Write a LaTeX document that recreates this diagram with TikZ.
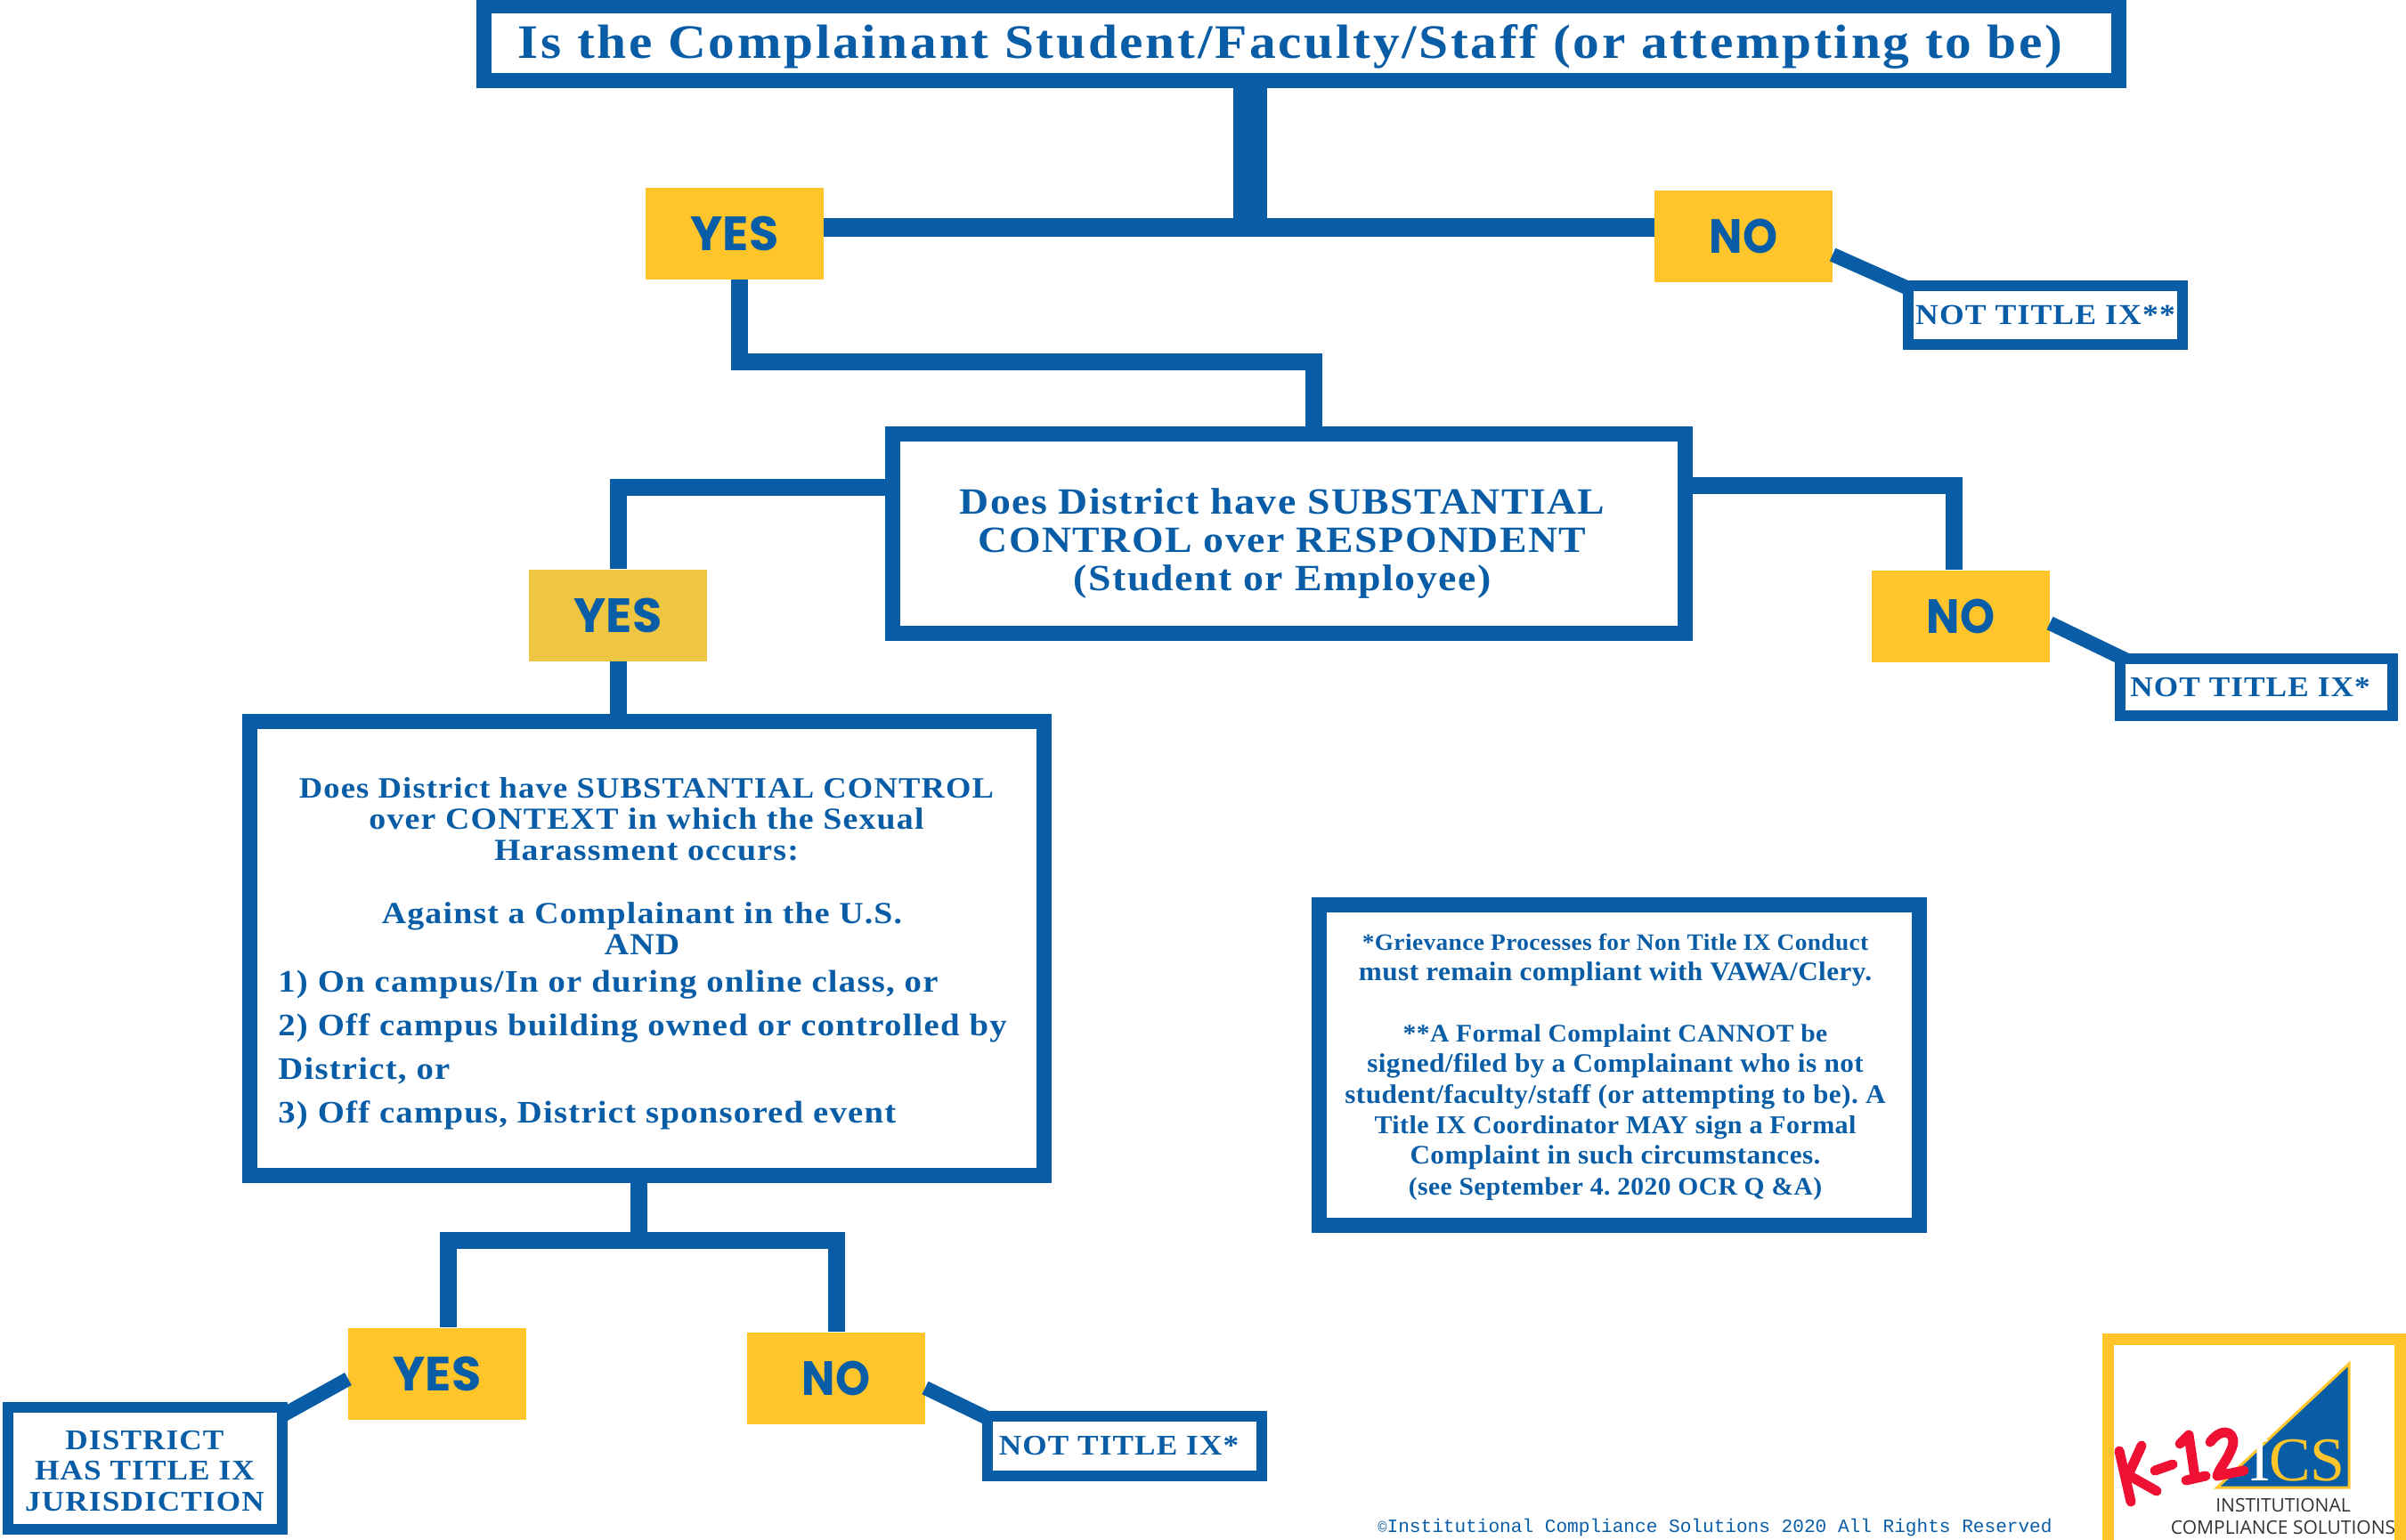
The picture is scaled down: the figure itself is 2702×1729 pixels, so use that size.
\documentclass[tikz,border=0pt]{standalone}
\usepackage{fontspec}
\setmainfont{Liberation Serif}
\newfontfamily\bodyf[LetterSpace=3.5,FakeStretch=1.1]{Liberation Serif Bold}
\newfontfamily\titlef[LetterSpace=5,FakeStretch=1.1]{Liberation Serif Bold}
\newfontfamily\notef[LetterSpace=1.5,FakeStretch=1.04]{Liberation Serif Bold}
\newfontfamily\capf{Poppins Bold}
\newfontfamily\capnf[FakeStretch=0.92]{Poppins Bold}
\newfontfamily\monof{Liberation Mono}
\newfontfamily\logof{Open Sans}
\newfontfamily\icsf{Liberation Serif}
\definecolor{ublue}{HTML}{085DA6}
\definecolor{uyellow}{HTML}{FFC52B}
\definecolor{uyellowb}{HTML}{EFC641}
\definecolor{ured}{HTML}{EE1133}
\newcommand{\szn}[1]{\fontsize{#1}{17.2}\selectfont}
\tikzset{
  qbox/.style={draw=ublue,fill=white,line width=8.5pt,inner sep=0pt,text=ublue,align=center},
  smallbox/.style={qbox,line width=6pt},
  answer/.style={fill=uyellow,text=ublue,inner sep=0pt,minimum width=100pt,minimum height=51.5pt,font=\capf\fontsize{27}{27}\selectfont},
  answerno/.style={answer,font=\capnf\fontsize{27}{27}\selectfont},
  conn/.style={draw=ublue,line width=9.5pt,line join=miter},
  diag/.style={draw=ublue,line width=8pt},
  bodytext/.style={text=ublue,inner sep=0pt,font=\bodyf\fontsize{17.2}{17.6}\selectfont},
  stroke12/.style={draw=ured,line width=5.5pt,line cap=round,line join=round}
}
\begin{document}
\frenchspacing
\begin{tikzpicture}[x=0.5pt,y=-0.5pt]
\clip (0,0) rectangle (2702,1729);
% junction coordinates
\coordinate (j1) at (1404,255);
\coordinate (e1) at (830,406);
\coordinate (e2) at (1475,406);
\coordinate (e3) at (694.5,547.5);
\coordinate (e4) at (2194,545);
\coordinate (j3) at (717.5,1393.5);
\coordinate (e5) at (503.5,1393.5);
\coordinate (e6) at (939,1393.5);
\coordinate (d1) at (2058,286); \coordinate (d2) at (2141,323);
\coordinate (d3) at (2302,700); \coordinate (d4) at (2387,741);
\coordinate (d5) at (1039,1559); \coordinate (d6) at (1111,1594);
\coordinate (d7) at (391,1549); \coordinate (d8) at (319,1589);
% boxes
\node[qbox,minimum width=918pt,minimum height=42pt] (top) at (1461.5,48.5) {};
\node[bodytext,font=\titlef\fontsize{27}{27}\selectfont] (topt) at (1449,52) {Is the Complainant Student/Faculty/Staff (or attempting to be)};
\node[answer] (yes1) at (825,262) {YES};
\node[answerno] (no1) at (1958,265.5) {NO};
\node[smallbox,minimum width=154pt,minimum height=33pt,font=\bodyf\fontsize{16.2}{16.2}\selectfont] (nix1) at (2297,354) {NOT TITLE IX**};
\node[qbox,minimum width=445pt,minimum height=112pt] (box2) at (1447.5,599.5) {};
\node[bodytext,align=center,font=\bodyf\fontsize{20.8}{21.5}\selectfont] (box2t) at (1440,611) {Does District have SUBSTANTIAL\\CONTROL over RESPONDENT\\(Student or Employee)};
\node[answer,fill=uyellowb] (yes2) at (694,691) {YES};
\node[answerno] (no2) at (2202,692) {NO};
\node[smallbox,minimum width=153pt,minimum height=32pt,font=\bodyf\fontsize{16}{16}\selectfont] (nix2) at (2534,772) {\hspace*{-7pt}NOT TITLE IX*};
\node[qbox,minimum width=446pt,minimum height=255pt] (box3) at (726.5,1065.5) {};
\node[bodytext,align=center,anchor=north] (box3a) at (726,873) {{\fontsize{16.6}{17.6}\selectfont Does District have SUBSTANTIAL CONTROL}\\over CONTEXT in which the Sexual\\Harassment occurs:};
\node[bodytext,align=center,anchor=north] (box3b) at (721,1013) {Against a Complainant in the U.S.\\AND};
\node[bodytext,align=left,anchor=north west,font=\bodyf\fontsize{17.6}{24.4}\selectfont] (box3c) at (312,1090) {1) On campus/In or during online class, or\\2) Off campus building owned or controlled by\\District, or\\3) Off campus, District sponsored event};
\node[answer] (yes3) at (491,1543) {YES};
\node[answerno] (no3) at (939,1548) {NO};
\node[smallbox,minimum width=154pt,minimum height=33.5pt,font=\bodyf\fontsize{16}{16}\selectfont] (nix3) at (1262.5,1624) {\hspace*{-6pt}NOT TITLE IX*};
\node[smallbox,minimum width=154pt,minimum height=68.5pt] (dist) at (162.5,1649) {};
\node[bodytext,align=center,font=\bodyf\fontsize{16}{17.3}\selectfont] (distt) at (162.5,1652.5) {DISTRICT\\HAS TITLE IX\\JURISDICTION};
\node[qbox,minimum width=337pt,minimum height=180pt] (note) at (1818.5,1196) {};
\node[bodytext,align=center,font=\notef\fontsize{15}{17.2}\selectfont] (notet) at (1814,1198.5) {{\szn{13.15}*Grievance Processes for Non Title IX Conduct}\\must remain compliant with VAWA/Clery.\\[17.2pt]{\szn{14.2}**A Formal Complaint CANNOT be}\\signed/filed by a Complainant who is not\\student/faculty/staff (or attempting to be). A\\{\szn{14.4}Title IX Coordinator MAY sign a Formal}\\Complaint in such circumstances.\\{\szn{14.2}(see September 4. 2020 OCR Q \&A)}};
% connectors
\draw[conn,line width=19pt] (top.south -| j1) -- (j1);
\draw[conn,line width=10.5pt] (yes1.east |- j1) -- (no1.west |- j1);
\draw[conn] (yes1.south -| e1) -- (e1) -- (e2) -- (box2.north -| e2);
\draw[conn] (box2.west |- e3) -- (e3) -- (yes2.north -| e3);
\draw[conn] (box2.east |- e4) -- (e4) -- (no2.north -| e4);
\draw[conn] (yes2.south -| e3) -- (box3.north -| e3);
\draw[conn] (box3.south -| j3) -- (j3);
\draw[conn] (yes3.north -| e5) -- (e5) -- (e6) -- (no3.north -| e6);
\draw[diag] (d1) -- (d2);
\draw[diag] (d3) -- (d4);
\draw[diag] (d5) -- (d6);
\draw[diag] (d7) -- (d8);
% copyright
\node[anchor=west,inner sep=0pt,text=ublue,font=\monof\fontsize{10.55}{10.5}\selectfont] (copy) at (1547,1716) {{\fontsize{8.5}{8.5}\selectfont ©}Institutional Compliance Solutions 2020 All Rights Reserved};
% logo
\draw[draw=uyellow,line width=6.5pt,fill=white] (2367.5,1504.5) rectangle (2695.5,1800);
\fill[fill=ublue,draw=uyellow,line width=1.5pt] (2490,1671) -- (2638,1532) -- (2638,1671) -- cycle;
\node[anchor=base,inner sep=0pt,text=white,font=\icsf\fontsize{35}{35}\selectfont] (icsi) at (2538,1663) {I};
\node[anchor=base,inner sep=0pt,text=uyellow,font=\icsf\fontsize{35}{35}\selectfont] (icscs) at (2591,1663) {CS};
\node[inner sep=0pt,text=black!80,font=\logof\fontsize{10.5}{10.5}\selectfont] (logo1) at (2564,1691) {INSTITUTIONAL};
\node[inner sep=0pt,text=black!80,font=\logof\fontsize{10.5}{10.5}\selectfont] (logo2) at (2564,1716) {COMPLIANCE SOLUTIONS};
% K-12
\draw[stroke12] (2380,1630) -- (2393,1687);
\draw[stroke12] (2405,1624) -- (2390,1657) -- (2422,1675);
\draw[stroke12] (2420,1652) -- (2440,1645);
\draw[stroke12] (2448,1622) -- (2458,1612) -- (2465,1660);
\draw[stroke12] (2455,1663) -- (2477,1658);
\draw[stroke12] (2482,1620) .. controls (2497,1600) and (2515,1610) .. (2505,1630) .. controls (2500,1642) and (2492,1650) .. (2490,1658) -- (2520,1652);
\end{tikzpicture}
\end{document}
